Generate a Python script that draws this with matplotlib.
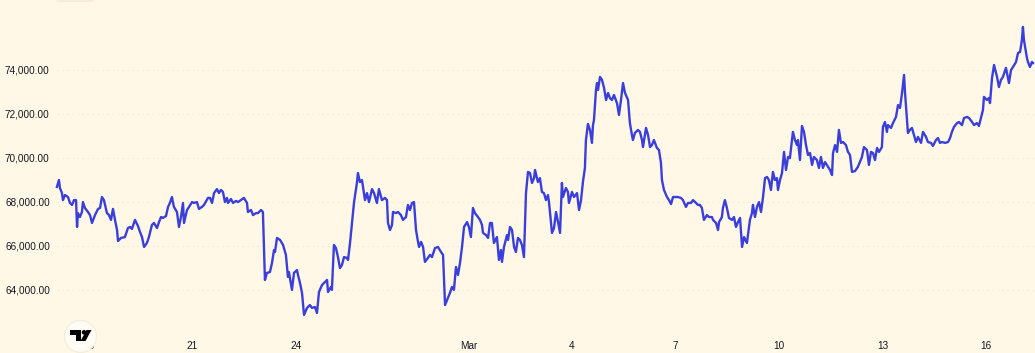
import numpy as np
import pandas as pd
import matplotlib
matplotlib.use('Agg')
import matplotlib.pyplot as plt
import matplotlib.dates as mdates
import matplotlib.patches as mpatches

# price, x = hours after 2025-02-17 00:00

hours_feb17 = [1.7, 3.1, 3.8, 5.2, 5.9, 7.3, 9.4, 10.8, 12.2, 13.6, 15.0, 15.7, 16.3, 17.7, 19.1, 19.8,
               21.2, 23.3, 24.7, 26.1, 28.2, 30.3, 31.7, 33.0, 34.4, 36.5, 37.9, 39.3, 40.7, 42.1, 43.5,
               44.2, 46.3, 49.0, 51.1, 52.5, 53.9, 56.0, 58.1, 59.5, 60.9, 62.3, 64.3, 65.7, 67.8, 69.2,
               71.3, 72.7, 74.1, 75.5, 77.6, 79.0, 80.3, 81.7, 83.1, 85.2, 86.6, 88.0, 89.4, 90.1, 92.2,
               93.6, 95.7, 97.0, 99.1, 100.5, 102.6, 104.0, 106.8, 108.2, 109.6, 111.0, 113.0]
price_feb17 = [68700, 69010, 68650, 68420, 68100, 68330, 68240, 67970, 67880, 68100, 68100, 66880, 67510,
               67330, 67560, 68010, 67740, 67560, 67420, 67060, 67420, 67700, 67740, 68240, 68100, 67510,
               67420, 67200, 67700, 67200, 66740, 66240, 66380, 66420, 66830, 66880, 66790, 67200, 66920,
               66650, 66420, 65970, 66150, 66420, 66970, 67060, 66830, 67100, 67330, 67290, 67380, 67790,
               67970, 68240, 67790, 67560, 66880, 67330, 67970, 67060, 67650, 67790, 68010, 67970, 68010,
               67700, 67790, 67880, 68200, 68200, 67970, 68420, 68600]

hours_feb21 = [114.4, 115.8, 117.2, 118.6, 120.0, 120.7, 122.8, 124.2, 126.3, 127.7, 129.7, 131.8, 133.9,
               134.6, 136.7, 138.1, 140.2, 141.6, 143.7, 145.0, 146.4, 147.8, 149.9, 151.3, 152.7, 153.4,
               154.8, 156.9, 159.0, 161.0, 162.4, 163.1, 165.2, 166.6, 168.7, 169.4, 170.8, 172.2, 173.6,
               175.7, 177.7, 179.1, 181.2, 182.6, 184.0, 186.1, 188.2, 189.6, 190.3, 192.3, 193.0, 194.4,
               195.8, 197.2, 198.6, 200.0, 201.4, 203.5, 204.2, 205.6, 207.0, 208.4, 210.4, 211.1, 212.5,
               213.9, 214.6, 216.0, 217.4, 218.8, 220.9, 222.3, 224.3, 225.7]
price_feb21 = [68420, 68560, 68470, 68010, 68200, 67970, 68150, 67970, 68060, 68010, 68100, 68200, 67970,
               67560, 67650, 67420, 67510, 67510, 67650, 67560, 64470, 64790, 64830, 65240, 65830, 65740,
               66380, 66290, 66060, 65610, 64610, 64830, 64020, 64790, 64920, 64700, 64330, 63880, 62880,
               63200, 63330, 63200, 63240, 62970, 63920, 64240, 64380, 64470, 63920, 64150, 64020, 66060,
               65920, 65510, 65010, 65150, 65510, 65470, 65380, 66150, 67060, 68010, 68880, 69330, 68920,
               69010, 68700, 68100, 68420, 68010, 68600, 68420, 67970, 68600]

hours_feb26 = [227.8, 229.9, 231.3, 232.0, 233.4, 234.8, 235.5, 237.6, 239.0, 241.0, 242.4, 244.5, 245.9,
               247.3, 248.7, 250.1, 251.5, 252.9, 253.6, 255.0, 256.4, 257.7, 259.8, 261.2, 262.6, 264.7,
               266.8, 268.9, 270.3, 271.7, 273.7, 275.1, 276.5, 277.9, 279.3, 280.7, 282.1, 283.5, 284.9,
               287.0, 288.3, 289.7, 291.1, 292.5, 294.6, 296.0, 297.4, 298.1, 300.2, 301.6, 303.0, 304.3,
               305.7, 307.8, 309.2, 310.6, 311.3, 312.7, 314.8, 315.5, 316.9, 318.3, 319.7, 321.0, 322.4,
               323.8, 325.2, 326.6, 328.0, 329.4, 330.8, 332.2, 333.6]
price_feb26 = [68100, 68200, 68100, 67060, 66740, 66970, 67560, 67510, 67560, 67420, 67200, 67330, 67880,
               67650, 67970, 68010, 66740, 66200, 65970, 66200, 65970, 65290, 65470, 65610, 65510, 65920,
               65970, 65740, 65610, 63330, 63650, 63880, 64150, 64020, 65060, 64700, 65240, 65970, 66880,
               67100, 66880, 66420, 67740, 67510, 67330, 67200, 66970, 66610, 66510, 66380, 67060, 67060,
               66150, 66420, 65380, 65830, 65290, 65970, 66510, 66290, 66880, 66740, 65970, 65740, 66380,
               66290, 66060, 65510, 68420, 69380, 69330, 68880, 69100]

hours_mar03 = [334.3, 336.3, 337.7, 339.1, 340.5, 341.9, 343.3, 344.0, 345.4, 346.1, 347.5, 348.9, 350.3,
               351.7, 353.0, 353.7, 355.8, 357.2, 357.9, 360.0, 361.4, 363.5, 364.9, 366.3, 367.6, 369.0,
               369.7, 371.1, 372.5, 373.9, 374.6, 375.3, 376.7, 377.4, 378.1, 379.5, 380.9, 382.3, 383.7,
               385.1, 386.4, 387.8, 389.2, 391.3, 392.7, 394.1, 395.5, 396.9, 399.0, 400.3, 401.7, 402.4,
               403.8, 405.9, 407.3, 408.7, 409.4, 411.5, 412.9, 414.3, 415.6, 417.0, 419.1, 420.5, 421.9,
               422.6, 424.0, 426.1, 427.5, 428.9, 430.3, 432.4, 433.7, 435.8, 437.2, 439.3, 440.7, 442.8,
               444.2, 446.3]
price_mar03 = [69470, 68920, 69100, 68470, 68420, 68100, 68330, 68010, 67060, 66610, 66830, 67560, 67100,
               66610, 68880, 68240, 68650, 68470, 67970, 68470, 68240, 68420, 67650, 68100, 68920, 69560,
               70830, 71560, 71290, 70700, 71510, 71740, 73110, 73420, 73110, 73700, 73560, 73200, 72650,
               72970, 72740, 72650, 72880, 72510, 71970, 72650, 73420, 72970, 72650, 71600, 71060, 70830,
               71150, 71290, 71200, 70830, 70510, 71380, 71060, 70510, 70600, 70830, 70470, 70380, 69790,
               69010, 68560, 68240, 68100, 67920, 68240, 68240, 68240, 68200, 68100, 67790, 67970, 67970,
               68100, 67970]

hours_mar07 = [447.6, 449.0, 450.4, 451.8, 453.9, 455.3, 457.4, 458.1, 460.2, 461.6, 462.3, 464.3, 465.0,
               466.4, 467.8, 469.2, 471.3, 472.7, 474.1, 475.5, 476.9, 478.3, 479.7, 481.7, 482.4, 483.8,
               485.2, 485.9, 487.3, 488.7, 490.1, 491.5, 492.9, 494.3, 495.7, 497.0, 498.4, 499.8, 501.2,
               502.6, 503.3, 504.7, 506.1, 507.5, 508.9, 510.3, 511.6, 513.0, 513.7, 515.1, 516.5, 517.2,
               518.6, 520.0, 521.4, 522.8, 524.2, 525.6, 527.0, 528.3, 530.4, 531.8, 533.2, 534.6, 536.0,
               538.1, 539.5, 540.9, 541.6, 543.0, 544.4, 545.7, 547.1, 548.5, 550.6, 552.0, 553.4, 554.8,
               556.9, 558.9, 560.3]
price_mar07 = [67880, 67880, 67740, 67200, 67420, 67330, 67330, 67200, 67060, 66740, 67100, 67330, 67740,
               68100, 67740, 67290, 67200, 67330, 66880, 67100, 67290, 65970, 66420, 66150, 66510, 67200,
               67510, 67880, 67330, 67790, 68010, 67560, 68240, 69100, 69150, 69010, 68560, 69380, 69010,
               69100, 68560, 69010, 69330, 70290, 69470, 70060, 70010, 70830, 71200, 70830, 70600, 70830,
               69920, 71470, 71200, 70600, 70150, 70240, 69700, 70060, 69920, 69560, 70060, 69560, 69830,
               69610, 69470, 69240, 70240, 70600, 70290, 71290, 70700, 70740, 70600, 70290, 70150, 69380,
               69420, 69610, 69830]

hours_mar12 = [561.7, 563.1, 565.2, 566.6, 568.0, 569.4, 570.8, 572.2, 573.6, 575.6, 576.3, 577.7, 579.1,
               579.8, 581.9, 583.3, 585.4, 586.8, 588.2, 589.6, 591.0, 591.7, 593.0, 593.7, 595.1, 596.5,
               597.9, 599.3, 600.7, 602.8, 604.2, 606.3, 607.6, 609.7, 611.1, 613.2, 614.6, 616.0, 617.4,
               619.5, 621.6, 623.0, 624.3, 625.7, 627.8, 629.2, 631.3, 632.7, 634.8, 636.2, 638.3, 639.7,
               641.7, 643.1, 644.5, 645.9, 646.6, 648.7, 650.1, 650.8, 652.2, 653.6, 655.7, 657.0, 658.4,
               659.8, 661.9, 663.3, 664.0, 665.4, 666.8, 668.9, 670.3, 671.7, 673.0, 673.7, 674.4, 676.5,
               677.2, 678.6, 680.0, 680.7]
price_mar12 = [70060, 70510, 70380, 69700, 70290, 70240, 69920, 70470, 70290, 70510, 71420, 71650, 71200,
               71510, 71380, 71600, 71880, 72420, 72290, 72970, 73790, 72970, 71740, 71150, 71290, 71380,
               71060, 70740, 70970, 70700, 71200, 70970, 70740, 70700, 70560, 70830, 70920, 70700, 70740,
               70700, 70740, 70920, 71200, 71420, 71600, 71650, 71510, 71830, 71880, 71830, 71650, 71510,
               71600, 71470, 71830, 72200, 72790, 72650, 72740, 72510, 73650, 74240, 73700, 73240, 73560,
               73700, 74110, 73650, 73420, 74010, 74150, 74380, 74790, 74830, 75380, 75970, 75380, 74560,
               74380, 74150, 74380, 74330]

tick_dates = ['2025-02-18', '2025-02-21', '2025-02-24', '2025-03-01', '2025-03-04',
              '2025-03-07', '2025-03-10', '2025-03-13', '2025-03-16']
tick_labels = ['18', '21', '24', 'Mar', '4', '7', '10', '13', '16']
price_ticks = [64000, 66000, 68000, 70000, 72000, 74000]

bg = '#FFF8E6'
line_color = '#3A3EDB'
text_color = '#131722'
plt.rcParams['font.family'] = ['Liberation Sans', 'DejaVu Sans']

start = pd.Timestamp('2025-02-17')
hours = np.concatenate([hours_feb17, hours_feb21, hours_feb26, hours_mar03, hours_mar07, hours_mar12])
price = np.concatenate([price_feb17, price_feb21, price_feb26, price_mar03, price_mar07, price_mar12])
times = start + pd.to_timedelta(hours, unit='h')

fig = plt.figure(figsize=(10.35, 3.53), dpi=100, facecolor=bg)
ax = fig.add_axes([0, 0, 1, 1])
ax.set_facecolor(bg)
for s in ax.spines.values():
    s.set_visible(False)

ax.plot(times, price, color=line_color, lw=1.7, solid_joinstyle='round', zorder=3)

ax.set_xlim(start - pd.Timedelta(hours=37.9), start + pd.Timedelta(hours=682.1))
ax.set_ylim(61150, 77195)
ax.set_xticks([])
ax.set_yticks([])

# grid + price labels sit inside the plot, on the left
for p in price_ticks:
    ax.axhline(p, xmin=57 / 1035, xmax=1, color='#F3EBD9', lw=0.8, ls=(0, (1.5, 3)), zorder=1)
    ax.text(5 / 1035, p, f'{p:,.2f}', transform=ax.get_yaxis_transform(),
            ha='left', va='center', fontsize=7.2, color=text_color)

for d, lab in zip(tick_dates, tick_labels):
    ax.text(mdates.date2num(pd.Timestamp(d)), 7 / 353, lab, transform=ax.get_xaxis_transform(),
            ha='center', va='center', fontsize=7.2, color=text_color)

# overlay in pixel units for the logo bits
ov = fig.add_axes([0, 0, 1, 1], zorder=5)
ov.set_xlim(0, 1035)
ov.set_ylim(353, 0)
ov.axis('off')
ov.add_patch(mpatches.FancyBboxPatch((56, -6), 38, 8, boxstyle='round,pad=0,rounding_size=3',
                                     fc='#FCEBDD', ec='none'))
ov.add_patch(mpatches.Circle((80.5, 336.5), 16, fc='#FFFCF5', ec='#F4ECDC', lw=0.8))
ov.add_patch(mpatches.Rectangle((69.5, 330), 11.5, 4.5, fc='black', ec='none'))
ov.add_patch(mpatches.Rectangle((75.5, 330), 5.5, 11, fc='black', ec='none'))
ov.add_patch(mpatches.Circle((84, 332.3), 2.3, fc='black', ec='none'))
ov.add_patch(mpatches.Polygon([(86.5, 330), (91.5, 330), (85.5, 341), (80.5, 341)],
                              closed=True, fc='black', ec='none'))

fig.savefig('out.png', dpi=100, facecolor=bg)
